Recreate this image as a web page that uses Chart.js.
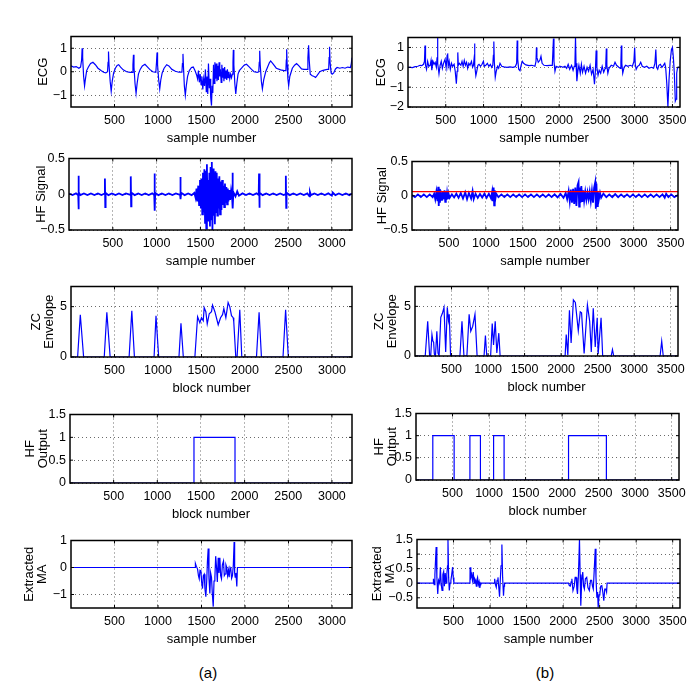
<!DOCTYPE html>
<html>
<head>
<meta charset="utf-8">
<script src="https://cdn.jsdelivr.net/npm/chart.js@4.4.0/dist/chart.umd.min.js"></script>
<style>
  body { margin: 0; background: #fff; }
  #fig { position: relative; width: 700px; height: 700px; overflow: hidden; background: #fff; }
  #fig canvas { position: absolute; }
  .cap { position: absolute; font: 15px "Liberation Sans", Arial, sans-serif; color: #000; transform: translate(-50%, -50%); }
</style>
</head>
<body>
<div id="fig">
  <div class="cap" style="left:208px;top:672px">(a)</div>
  <div class="cap" style="left:545px;top:672px">(b)</div>
</div>
<script>
// ---- data, [sample/block, value] ----
const ticksA = [500, 1000, 1500, 2000, 2500, 3000];
const ticksB = [500, 1000, 1500, 2000, 2500, 3000, 3500];

// (a) ECG
const ecgA = [[0,0.25],[30,0.2],[60,0.22],[90,0.15],[110,0.2],[122,0.5],[128,1.0],[134,0.6],[145,-0.2],[156,-0.6],[166,-0.3],[180,0.05],[200,0.2],[225,0.35],[252,0.4],[280,0.3],[310,0.15],[345,0.05],[375,-0.02],[400,-0.05],[420,0.0],[426,0.4],[431,0.86],[437,0.3],[450,-0.4],[462,-0.83],[474,-0.4],[490,-0.05],[510,0.15],[530,0.27],[548,0.3],[570,0.2],[600,0.08],[640,0.0],[680,-0.03],[705,-0.03],[712,0.3],[718,0.72],[724,0.2],[736,-0.5],[748,-0.92],[760,-0.5],[775,-0.1],[795,0.1],[820,0.25],[850,0.32],[875,0.22],[905,0.1],[940,0.0],[975,-0.02],[983,0.4],[989,0.82],[995,0.3],[1008,-0.35],[1020,-0.73],[1032,-0.35],[1048,-0.05],[1070,0.15],[1100,0.3],[1125,0.25],[1160,0.1],[1200,0.02],[1240,-0.02],[1275,-0.02],[1281,0.35],[1287,0.76],[1293,0.2],[1303,-0.6],[1314,-1.0],[1325,-0.6],[1340,-0.2],[1360,0.05],[1385,0.18],[1405,0.2],[1425,0.05],[1445,-0.15],
  [1455,-0.3],[1465,0.05],[1475,-0.45],[1485,-0.1],[1495,-0.55],[1505,-0.2],[1515,-0.75],[1525,-0.3],[1535,-0.6],[1545,0.1],[1555,-0.85],[1563,-0.2],[1572,-0.95],[1580,0.35],[1590,-0.7],[1598,-0.3],[1606,-1.1],[1615,-1.44],[1622,-0.6],[1630,-0.9],[1638,0.3],[1646,-0.5],[1654,0.4],[1662,-0.3],[1670,0.35],[1678,-0.4],[1686,0.25],[1694,-0.35],[1702,0.4],[1710,-0.2],[1718,0.1],[1726,-0.45],[1734,0.3],[1742,-0.25],[1750,0.15],[1758,-0.4],[1766,0.2],[1774,-0.3],[1782,0.05],[1790,-0.35],[1798,0.1],[1806,-0.25],[1815,0.0],[1825,-0.3],[1835,-0.1],[1845,-0.25],[1855,-0.1],
  [1862,0.4],[1866,0.93],[1872,0.3],[1883,-0.5],[1894,-0.94],[1906,-0.5],[1920,-0.1],[1935,0.05],[1960,0.15],[1990,0.28],[2017,0.32],[2045,0.22],[2075,0.1],[2104,0.0],[2140,-0.03],[2158,0.0],[2164,0.4],[2169,0.89],[2175,0.3],[2188,-0.4],[2200,-0.73],[2215,-0.35],[2238,0.0],[2260,0.2],[2280,0.38],[2295,0.46],[2320,0.35],[2360,0.15],[2410,0.08],[2450,0.05],[2470,0.05],[2475,0.5],[2479,0.96],[2485,0.3],[2493,-0.3],[2502,-0.59],[2515,-0.2],[2544,0.15],[2570,0.28],[2593,0.35],[2620,0.25],[2650,0.12],[2677,0.1],[2715,0.1],[2723,0.6],[2731,1.13],[2738,0.5],[2750,-0.1],[2773,-0.17],[2795,-0.2],[2811,-0.24],[2830,-0.15],[2860,0.0],[2888,0.05],[2920,0.08],[2945,0.1],[2962,0.1],[2967,0.6],[2972,1.06],[2978,0.4],[2990,-0.05],[3002,-0.1],[3020,-0.05],[3040,0.12],[3059,0.18],[3090,0.15],[3120,0.18],[3150,0.15],[3180,0.2],[3212,0.18],[3222,0.35],[3230,0.6]];

// (a) HF signal
const hfA = [[0,0.01],[40,-0.012],[80,0.012],[100,-0.01],[105,0.0],[107,0.26],[110,-0.21],[114,0.03],[130,-0.012],[170,0.012],[210,-0.012],[250,0.012],[290,-0.012],[330,0.012],[370,-0.012],[405,0.01],[410,0.22],[414,-0.18],[418,0.02],[450,-0.012],[490,0.012],[530,-0.012],[570,0.012],[610,-0.012],[650,0.012],[700,-0.01],[705,0.25],[709,-0.17],[713,0.02],[750,-0.012],[790,0.012],[830,-0.012],[870,0.012],[910,-0.012],[950,0.012],[973,-0.01],[976,0.29],[980,-0.23],[984,0.02],[1020,-0.012],[1060,0.012],[1100,-0.012],[1140,0.012],[1180,-0.012],[1220,0.012],[1268,-0.01],[1271,0.24],[1275,-0.07],[1280,0.02],[1320,-0.012],[1360,0.012],[1400,-0.012],[1430,0.02],
  [1445,-0.05],[1455,0.08],[1465,-0.1],[1475,0.12],[1485,-0.15],[1495,0.2],[1505,-0.2],[1513,0.22],[1521,-0.28],[1529,0.3],[1537,-0.25],[1545,0.35],[1553,-0.4],[1560,0.33],[1567,-0.48],[1574,0.42],[1581,-0.3],[1588,0.2],[1595,-0.38],[1602,0.3],[1609,-0.45],[1616,0.38],[1623,-0.35],[1630,0.45],[1637,-0.52],[1644,0.36],[1651,-0.3],[1658,0.28],[1665,-0.42],[1672,0.32],[1679,-0.25],[1686,0.3],[1693,-0.3],[1700,0.22],[1708,-0.2],[1716,0.25],[1724,-0.28],[1732,0.18],[1740,-0.22],[1748,0.2],[1756,-0.15],[1764,0.12],[1772,-0.18],[1780,0.15],[1788,-0.12],[1796,0.1],[1804,-0.14],[1812,0.08],[1820,-0.1],[1830,0.06],[1840,-0.08],[1850,0.05],[1862,-0.05],[1866,0.3],[1870,-0.2],[1876,0.03],[1900,-0.03],[1920,0.04],[1940,-0.02],
  [1980,0.012],[2020,-0.012],[2060,0.012],[2100,-0.012],[2140,0.012],[2165,-0.01],[2169,0.29],[2173,-0.19],[2177,0.02],[2210,-0.012],[2250,0.012],[2290,-0.012],[2330,0.012],[2370,-0.012],[2410,0.012],[2450,-0.012],[2471,0.0],[2475,0.26],[2479,-0.19],[2483,0.02],[2520,-0.012],[2560,0.012],[2600,-0.012],[2640,0.012],[2680,-0.012],[2720,0.012],[2745,-0.03],[2750,0.03],[2760,-0.012],[2800,0.012],[2840,-0.012],[2880,0.012],[2920,-0.012],[2960,0.012],[3000,-0.02],[3010,0.025],[3040,-0.012],[3080,0.012],[3120,-0.012],[3160,0.012],[3200,-0.012],[3230,0.01]];

// (a) ZC envelope
const zcA = [[0,0],[76,0],[107,4.2],[145,0],[382,0],[412,4.45],[450,0],[668,0],[699,4.6],[729,0],[955,0],[977,4.1],[1008,0],[1241,0],[1264,3.35],[1291,0],[1424,0],[1455,4.0],[1481,3.4],[1500,3.9],[1520,3.6],[1531,4.9],[1550,4.5],[1566,3.3],[1589,4.3],[1615,4.5],[1627,5.15],[1654,4.5],[1692,3.2],[1719,3.9],[1742,4.2],[1757,4.8],[1780,3.9],[1806,5.4],[1825,5.0],[1845,4.1],[1864,3.9],[1871,3.5],[1894,0],[1909,0],[1940,4.7],[1963,0],[2132,0],[2162,4.45],[2189,0],[2437,0],[2467,4.7],[2498,0],[3230,0]];

// (a) HF output
const outA = [[0,0],[1420,0],[1420,1],[1890,1],[1890,0],[3230,0]];

// (a) extracted MA
const maA = [[0,0],[1428,0],[1430,0.15],[1440,0.05],[1455,-0.06],[1465,-0.3],[1474,-0.42],[1483,-0.1],[1493,-0.12],[1502,-0.55],[1512,-0.78],[1521,-0.3],[1531,-0.25],[1540,-0.8],[1550,-1.08],[1560,-0.5],[1568,0.2],[1577,0.7],[1586,-0.4],[1596,-0.96],[1605,-0.2],[1615,-0.36],[1625,-1.0],[1635,-1.45],[1644,-0.5],[1654,-0.36],[1663,0.42],[1673,0.0],[1682,-0.54],[1692,0.36],[1701,-0.2],[1711,0.36],[1720,-0.3],[1730,-0.42],[1740,0.1],[1753,0.24],[1762,-0.3],[1772,-0.24],[1781,0.1],[1791,0.0],[1800,-0.3],[1810,-0.1],[1818,-0.36],[1828,0.0],[1837,-0.06],[1846,-0.4],[1856,-0.3],[1866,0.1],[1875,0.94],[1881,-0.2],[1887,-0.36],[1896,-0.2],[1906,-0.7],[1913,0],[3230,0]];

// (b) ECG
const ecgB = [[0,0.0],[30,0.0],[60,-0.02],[95,0.03],[130,0.05],[160,0.1],[183,0.08],[205,0.15],[218,0.3],[225,1.1],[232,0.1],[245,-0.1],[260,0.3],[275,0.05],[293,0.1],[305,0.35],[315,-0.15],[330,0.3],[345,0.15],[360,0.25],[375,0.0],[385,0.5],[390,1.5],[396,0.2],[410,-0.33],[425,0.1],[440,0.3],[455,-0.05],[470,0.2],[490,0.4],[505,0.0],[518,0.6],[525,0.7],[532,0.05],[545,0.3],[560,-0.1],[575,0.2],[590,0.05],[610,0.15],[625,-0.2],[640,-0.83],[650,-0.2],[659,0.75],[666,0.1],[680,0.2],[700,0.1],[715,0.3],[730,0.05],[745,0.35],[760,0.1],[775,0.25],[790,-0.05],[805,0.2],[820,0.1],[840,0.3],[855,0.0],[866,0.1],[874,0.4],[880,1.2],[886,0.1],[898,-0.42],[910,-0.2],[925,0.1],[940,0.15],[960,0.05],[980,0.15],[998,0.3],[1010,0.05],[1030,0.1],[1050,0.2],[1070,0.05],[1090,0.15],[1108,0.0],[1122,0.1],[1130,0.6],[1136,1.3],[1142,0.3],[1155,-0.5],[1168,-0.2],[1185,0.05],[1200,-0.05],[1218,0.2],[1240,0.05],[1270,0.02],[1310,0.0],[1350,0.02],[1390,0.0],[1420,0.03],[1438,0.2],[1445,1.35],[1452,0.4],[1465,-0.1],[1482,-0.17],[1500,0.15],[1513,0.3],[1530,0.2],[1560,0.12],[1600,0.08],[1640,0.1],[1680,0.05],[1694,0.3],[1700,1.0],[1706,0.5],[1724,0.25],[1745,0.35],[1760,0.55],[1775,0.2],[1800,0.1],[1840,0.08],[1880,0.1],[1910,0.1],[1925,1.45],[1932,0.3],[1945,-0.2],[1960,0.05],[1990,0.0],[2020,0.05],[2050,0.0],[2077,0.05],[2100,-0.05],[2120,0.15],[2140,-0.1],[2165,0.1],[2185,-0.15],[2200,0.05],[2210,0.3],[2217,1.5],[2224,0.2],[2235,-0.7],[2248,-0.2],[2262,0.1],[2280,-0.3],[2295,0.15],[2310,-0.25],[2330,0.05],[2350,-0.3],[2370,0.0],[2390,-0.2],[2410,0.1],[2430,-0.35],[2450,-0.1],[2468,-0.85],[2480,-0.2],[2490,0.85],[2500,0.0],[2515,-0.4],[2530,-0.15],[2550,-0.3],[2570,0.05],[2590,-0.25],[2610,-0.05],[2618,0.2],[2625,0.95],[2632,0.1],[2645,-0.3],[2660,-0.05],[2690,0.1],[2720,0.05],[2740,0.25],[2760,0.1],[2790,0.0],[2810,-0.05],[2818,0.3],[2824,1.1],[2830,0.2],[2842,-0.3],[2860,0.0],[2880,0.1],[2910,0.05],[2940,0.1],[2970,0.05],[2990,0.3],[3000,1.0],[3008,0.15],[3020,-0.1],[3040,0.05],[3060,0.1],[3080,0.25],[3100,0.05],[3130,0.0],[3160,0.05],[3190,-0.05],[3220,0.0],[3250,-0.05],[3268,0.2],[3280,0.9],[3290,0.0],[3305,-0.1],[3320,0.1],[3340,0.15],[3360,0.0],[3380,0.1],[3398,0.2],[3410,0.0],[3425,-0.8],[3440,-2.0],[3455,-0.6],[3470,0.3],[3487,0.9],[3500,1.0],[3512,0.5],[3525,-0.3],[3538,-1.7],[3548,-1.6],[3556,-0.3],[3566,-0.05],[3580,0.0],[3600,-0.02]];

// (b) HF signal and its threshold
const hfB = [[0,0.01],[40,-0.02],[80,0.02],[120,-0.02],[160,0.02],[200,-0.02],[240,0.02],[280,-0.02],[300,0.03],[315,-0.05],[330,0.06],[345,-0.08],[355,0.13],[362,-0.15],[370,0.1],[378,-0.1],[386,0.08],[394,-0.06],[402,0.05],[410,-0.07],[420,0.06],[430,-0.05],[440,0.08],[450,-0.09],[458,0.07],[466,-0.06],[475,0.04],[485,-0.05],[495,0.03],[510,-0.03],[540,0.02],[570,-0.025],[600,0.03],[630,-0.03],[660,0.04],[690,-0.04],[720,0.05],[745,-0.05],[770,0.04],[800,-0.04],[820,0.07],[835,-0.05],[860,0.03],[890,-0.03],[920,0.025],[950,-0.025],[980,0.03],[1010,-0.03],[1040,0.03],[1070,-0.04],[1085,0.06],[1095,-0.08],[1105,0.12],[1112,-0.14],[1120,0.08],[1128,-0.05],[1140,0.03],[1170,-0.02],[1210,0.02],[1250,-0.02],[1290,0.02],[1330,-0.02],[1370,0.02],[1410,-0.02],[1450,0.02],[1490,-0.02],[1530,0.02],[1570,-0.02],[1610,0.02],[1650,-0.02],[1690,0.02],[1730,-0.02],[1770,0.02],[1810,-0.02],[1850,0.02],[1890,-0.02],[1930,0.02],[1970,-0.025],[2010,0.025],[2050,-0.03],[2080,0.04],[2100,-0.05],[2120,0.07],[2135,-0.08],[2150,0.09],[2165,-0.1],[2180,0.1],[2195,-0.12],[2210,0.12],[2225,-0.15],[2240,0.15],[2254,0.2],[2262,-0.16],[2270,0.12],[2280,-0.1],[2292,0.14],[2305,-0.09],[2318,0.08],[2330,-0.07],[2345,0.06],[2360,-0.06],[2375,0.05],[2390,-0.05],[2405,0.06],[2420,-0.08],[2435,0.07],[2450,-0.1],[2465,0.12],[2480,0.2],[2488,-0.19],[2496,0.18],[2505,-0.15],[2515,0.06],[2530,-0.05],[2545,0.04],[2560,-0.03],[2590,0.03],[2630,-0.02],[2670,0.02],[2710,-0.02],[2750,0.025],[2790,-0.02],[2830,0.02],[2870,-0.02],[2910,0.02],[2950,-0.02],[2990,0.02],[3030,-0.02],[3070,0.02],[3110,-0.02],[3150,0.02],[3190,-0.02],[3230,0.02],[3270,-0.02],[3310,0.02],[3350,-0.02],[3390,0.02],[3420,-0.03],[3440,0.03],[3470,-0.02],[3510,0.02],[3550,-0.02],[3600,0.01]];
const thrB = [[0,0.06],[3600,0.06]];

// (b) ZC envelope
const zcB = [[0,0],[140,0],[174,3.5],[200,0],[215,0],[232,2.15],[245,1.5],[255,1.4],[265,0.2],[280,0],[299,2.5],[315,0.3],[330,0],[353,3.9],[375,4.3],[397,4.9],[420,0.4],[442,4.9],[458,3.6],[469,4.2],[487,0],[615,0],[643,3.5],[670,0],[710,0],[741,4.2],[763,2.5],[790,3.0],[821,4.2],[850,0],[945,0],[964,2.05],[982,0],[1035,0],[1057,3.27],[1075,1.1],[1098,3.5],[1120,0.3],[1147,2.3],[1165,0],[2055,0],[2070,2.15],[2092,0.1],[2114,4.6],[2137,1.3],[2168,5.65],[2195,5.4],[2235,2.55],[2262,4.45],[2280,4.35],[2315,0.25],[2360,5.15],[2391,3.5],[2413,0.4],[2440,4.8],[2467,0.9],[2494,3.85],[2507,0.2],[2547,3.85],[2569,0],[2685,0],[2703,0.65],[2720,0],[3355,0],[3377,1.5],[3398,0],[3600,0]];

// (b) HF output
const outB = [[0,0],[230,0],[230,1],[522,1],[522,0],[738,0],[738,1],[882,1],[882,0],[1062,0],[1062,1],[1206,1],[1206,0],[2088,0],[2088,1],[2606,1],[2606,0],[3600,0]];

// (b) extracted MA
const maB = [[0,0],[221,0],[225,0.15],[235,-0.05],[245,0.3],[262,1.24],[272,0.2],[284,-0.37],[295,0.1],[310,0.0],[320,0.55],[332,-0.05],[343,-0.25],[354,0.3],[365,0.4],[375,-0.1],[386,0.35],[397,0.0],[408,0.3],[418,0.6],[424,1.5],[433,0.2],[442,-0.25],[453,0.0],[464,0.1],[475,0.3],[487,0.55],[496,0.2],[505,0.0],[523,0],[725,0],[727,0.55],[737,0.2],[748,0.3],[759,0.1],[770,0.38],[781,0.0],[792,0.15],[802,0.1],[812,-0.1],[820,0.12],[829,0.2],[840,-0.05],[850,0.05],[860,-0.16],[868,-0.05],[874,0],[1054,0],[1063,0.15],[1074,-0.05],[1085,-0.14],[1096,0.1],[1108,0.2],[1118,-0.1],[1130,-0.46],[1140,0.1],[1150,0.6],[1162,1.33],[1172,0.2],[1184,-0.43],[1192,-0.1],[1198,0],[2075,0],[2085,-0.08],[2098,-0.1],[2110,0.05],[2120,0.15],[2135,-0.25],[2152,-0.1],[2165,0.2],[2179,0.2],[2188,-0.2],[2197,-0.37],[2210,0.3],[2224,1.5],[2233,0.3],[2242,-0.77],[2255,0.1],[2269,0.38],[2280,-0.1],[2291,-0.2],[2305,0.15],[2323,0.2],[2340,-0.15],[2359,-0.25],[2375,0.1],[2390,0.1],[2402,-0.1],[2413,-0.2],[2425,0.4],[2440,1.18],[2450,0.2],[2462,-0.5],[2472,-0.3],[2480,-0.83],[2492,-0.4],[2503,-0.37],[2515,-0.1],[2530,-0.08],[2543,-0.3],[2557,-0.6],[2570,-0.2],[2584,-0.2],[2595,-0.3],[2602,0],[3600,0]];

// ---- layout ----
const YW = 62, PT = 10, PR = 18, XH = 42;
const BLUE = '#0000ff', RED = '#ff0000';
const tickFont = { family: '"Liberation Sans", Arial, sans-serif', size: 12.5 };
const titleFont = { family: '"Liberation Sans", Arial, sans-serif', size: 13, lineHeight: 1.0 };

// series entries: [points, colour, line width]
const panels = [
  { box: [71, 35, 352, 107], xMax: 3230, xTicks: ticksA, y: [-1.5, 1.5], yTicks: [-1, 0, 1], yTitle: 'ECG', pad: 27.8, xTitle: 'sample number', series: [[ecgA, BLUE, 1.2]] },
  { box: [69, 157, 352, 230], xMax: 3230, xTicks: ticksA, y: [-0.5, 0.5], yTicks: [-0.5, 0, 0.5], yTitle: 'HF Signal', pad: 27.5, xTitle: 'sample number', series: [[hfA, BLUE, 1.8]] },
  { box: [71, 285, 352, 357], xMax: 3230, xTicks: ticksA, y: [0, 7], yTicks: [0, 5], yTitle: ['ZC', 'Envelope'], pad: 21, xTitle: 'block number', series: [[zcA, BLUE, 1.2]] },
  { box: [70, 413, 352, 483], xMax: 3230, xTicks: ticksA, y: [0, 1.5], yTicks: [0, 0.5, 1, 1.5], yTitle: ['HF', 'Output'], pad: 16, xTitle: 'block number', series: [[outA, BLUE, 1.2]] },
  { box: [71, 539, 352, 608], xMax: 3230, xTicks: ticksA, y: [-1.5, 1], yTicks: [-1, 0, 1], yTitle: ['Extracted', 'MA'], pad: 13.5, xTitle: 'sample number', series: [[maA, BLUE, 1.2]] },
  { box: [408, 36, 680, 107], xMax: 3600, xTicks: ticksB, y: [-2, 1.5], yTicks: [-2, -1, 0, 1], yTitle: 'ECG', pad: 29, xTitle: 'sample number', series: [[ecgB, BLUE, 1.2]] },
  { box: [412, 160, 678, 230], xMax: 3600, xTicks: ticksB, y: [-0.5, 0.5], yTicks: [-0.5, 0, 0.5], yTitle: 'HF Signal', pad: 26, xTitle: 'sample number', series: [[thrB, RED, 1.2], [hfB, BLUE, 1.8]] },
  { box: [415, 285, 678, 356], xMax: 3600, xTicks: ticksB, y: [0, 7], yTicks: [0, 5], yTitle: ['ZC', 'Envelope'], pad: 20, xTitle: 'block number', series: [[zcB, BLUE, 1.2]] },
  { box: [416, 412, 679, 480], xMax: 3600, xTicks: ticksB, y: [0, 1.5], yTicks: [0, 0.5, 1, 1.5], yTitle: ['HF', 'Output'], pad: 19, xTitle: 'block number', series: [[outB, BLUE, 1.2]] },
  { box: [417, 538, 680, 608], xMax: 3600, xTicks: ticksB, y: [-0.85, 1.5], yTicks: [-0.5, 0, 0.5, 1, 1.5], yTitle: ['Extracted', 'MA'], pad: 16, xTitle: 'sample number', series: [[maB, BLUE, 1.2]] }
];

function fmt(v) {
  return v < 0 ? '\u2212' + Math.abs(v) : String(v);
}

// MATLAB-like frame with inward tick marks
const framePlugin = {
  id: 'frame',
  afterDraw(chart) {
    const { ctx, chartArea: a, scales } = chart;
    ctx.save();
    ctx.strokeStyle = '#000';
    ctx.lineWidth = 1;
    ctx.beginPath();
    scales.x.ticks.forEach(t => {
      const px = scales.x.getPixelForValue(t.value);
      ctx.moveTo(px, a.bottom); ctx.lineTo(px, a.bottom - 3);
      ctx.moveTo(px, a.top); ctx.lineTo(px, a.top + 3);
    });
    scales.y.ticks.forEach(t => {
      const py = scales.y.getPixelForValue(t.value);
      ctx.moveTo(a.left, py); ctx.lineTo(a.left + 3, py);
      ctx.moveTo(a.right, py); ctx.lineTo(a.right - 3, py);
    });
    ctx.stroke();
    ctx.lineWidth = 1.5;
    ctx.strokeRect(a.left, a.top, a.right - a.left, a.bottom - a.top);
    ctx.restore();
  }
};

const fig = document.getElementById('fig');

panels.forEach(p => {
  const [l, t, r, b] = p.box;
  const w = (r - l) + YW + PR;
  const h = (b - t) + PT + XH;
  const c = document.createElement('canvas');
  c.width = w; c.height = h;
  c.style.left = (l - YW) + 'px';
  c.style.top = (t - PT) + 'px';
  c.style.width = w + 'px';
  c.style.height = h + 'px';
  fig.appendChild(c);

  new Chart(c, {
    type: 'line',
    data: {
      datasets: p.series.map(([pts, color, lw]) => ({
        data: pts.map(([x, y]) => ({ x, y })),
        borderColor: color,
        borderWidth: lw,
        pointRadius: 0,
        tension: 0,
        fill: false
      }))
    },
    options: {
      responsive: false,
      animation: false,
      events: [],
      layout: { padding: { top: PT, right: PR, left: 0, bottom: 0 } },
      plugins: { legend: { display: false }, tooltip: { enabled: false } },
      scales: {
        x: {
          type: 'linear', min: 0, max: p.xMax,
          afterBuildTicks: s => { s.ticks = p.xTicks.map(v => ({ value: v })); },
          afterFit: s => { s.height = XH; },
          ticks: { callback: fmt, font: tickFont, color: '#000', padding: 6, maxRotation: 0, minRotation: 0, autoSkip: false },
          grid: { color: '#444', lineWidth: 0.8, drawTicks: false },
          border: { display: false, dash: [1, 3] },
          title: { display: true, text: p.xTitle, font: titleFont, color: '#000', padding: { top: 0, bottom: 4 } }
        },
        y: {
          type: 'linear', min: p.y[0], max: p.y[1],
          afterBuildTicks: s => { s.ticks = p.yTicks.map(v => ({ value: v })); },
          afterFit: s => { s.width = YW; },
          ticks: { callback: fmt, font: tickFont, color: '#000', padding: 4, autoSkip: false },
          grid: { color: '#444', lineWidth: 0.8, drawTicks: false },
          border: { display: false, dash: [1, 3] },
          title: { display: true, text: p.yTitle, font: titleFont, color: '#000', padding: { top: p.pad, bottom: 0 } }
        }
      }
    },
    plugins: [framePlugin]
  });
});
</script>
</body>
</html>
